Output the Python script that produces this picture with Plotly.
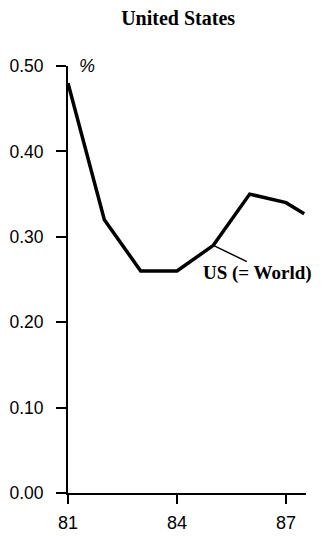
import plotly.graph_objects as go

years = [81, 82, 83, 84, 85, 86, 87, 87.5]
us_share = [0.48, 0.32, 0.26, 0.26, 0.29, 0.35, 0.34, 0.327]
y_ticks = [0.0, 0.1, 0.2, 0.3, 0.4, 0.5]
y_tick_labels = ["0.00", "0.10", "0.20", "0.30", "0.40", "0.50"]
x_ticks = [81, 84, 87]
x_tick_labels = ["81", "84", "87"]

fig = go.Figure()
fig.add_trace(go.Scatter(x=years, y=us_share, mode="lines",
                         line=dict(color="black", width=3.5), showlegend=False,
                         hoverinfo="skip"))

fig.add_annotation(x=85, y=0.29, ax=35, ay=17, axref="pixel", ayref="pixel",
                   xref="x", yref="y", text="", showarrow=True,
                   arrowhead=0, arrowwidth=1.5, arrowcolor="black",
                   standoff=0)
fig.add_annotation(x=85.0, y=0.258, xref="x", yref="y", text="<b>US (= World)</b>",
                   showarrow=False, xanchor="left", yanchor="middle",
                   xshift=-12,
                   font=dict(family="Liberation Serif", size=19, color="black"))
fig.add_annotation(x=81, y=0.50, xref="x", yref="y", text="<i>%</i>",
                   showarrow=False, xanchor="left", yanchor="middle", xshift=9,
                   font=dict(family="Liberation Sans", size=18, color="black"))

fig.update_layout(
    width=318, height=528,
    margin=dict(l=60, r=20, t=58, b=43),
    paper_bgcolor="white", plot_bgcolor="white",
    title=dict(text="<b>United States</b>", x=0.535, xanchor="center", y=1.0,
               yanchor="top", yref="container", pad=dict(t=3),
               font=dict(family="Liberation Serif", size=20, color="black")),
    xaxis=dict(range=[81, 87.55], tickvals=x_ticks, ticktext=x_tick_labels,
               showgrid=False, zeroline=False, showline=True, linecolor="black",
               linewidth=2, ticks="outside", ticklen=9, tickwidth=2,
               tickcolor="black", automargin=False, ticklabelstandoff=3,
               tickfont=dict(family="Liberation Sans", size=18, color="black")),
    yaxis=dict(range=[0, 0.50], tickvals=y_ticks, ticktext=y_tick_labels,
               showgrid=False, zeroline=False, showline=True, linecolor="black",
               linewidth=2, ticks="outside", ticklen=10, tickwidth=2,
               tickcolor="black", automargin=False, ticklabelstandoff=9,
               tickfont=dict(family="Liberation Sans", size=17.5, color="black")),
)

fig.write_html("out.html")
